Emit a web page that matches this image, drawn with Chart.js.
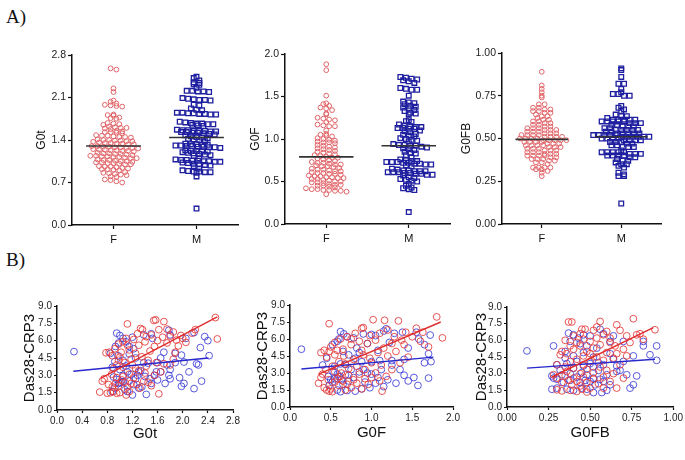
<!DOCTYPE html>
<html>
<head>
<meta charset="utf-8">
<script src="https://cdn.jsdelivr.net/npm/chart.js@4.4.1/dist/chart.umd.min.js"></script>
<style>
body { margin: 0; background: #fff; }
#wrap { position: relative; width: 685px; height: 460px; overflow: hidden; background: #fff; }
#wrap canvas { position: absolute; left: 0; top: 0; }
.tag { position: absolute; left: 6px; font-family: "Liberation Serif", "Times New Roman", serif; font-size: 19px; color: #111; }
</style>
</head>
<body>
<div id="wrap">
  <div class="tag" style="top:6px">A)</div>
  <div class="tag" style="top:249px">B)</div>
  <canvas id="c1" width="685" height="460"></canvas>
  <canvas id="c2" width="685" height="460"></canvas>
  <canvas id="c3" width="685" height="460"></canvas>
  <canvas id="c4" width="685" height="460"></canvas>
  <canvas id="c5" width="685" height="460"></canvas>
  <canvas id="c6" width="685" height="460"></canvas>
</div>
<script>
// ---- data ----
var groups = ['F', 'M'];

var g0tF = [2.58, 2.56, 2.25, 2.19,
  2.05, 2.03, 2.00, 1.98, 1.97, 1.96, 1.95,
  1.82, 1.81, 1.80, 1.77, 1.76, 1.75,
  1.68, 1.67, 1.66, 1.65, 1.62, 1.61, 1.60, 1.60, 1.59, 1.58,
  1.55, 1.54, 1.53, 1.53, 1.52, 1.51, 1.48, 1.47, 1.47, 1.46, 1.45, 1.45, 1.44,
  1.41, 1.40, 1.40, 1.39, 1.39, 1.38, 1.38, 1.37, 1.36, 1.35, 1.35, 1.34, 1.34, 1.33, 1.33,
  1.30, 1.30, 1.29, 1.29, 1.28, 1.28, 1.27, 1.27, 1.26, 1.25, 1.24, 1.24, 1.23, 1.23, 1.22, 1.22, 1.21,
  1.19, 1.18, 1.18, 1.17, 1.17, 1.16, 1.15, 1.14, 1.14, 1.13, 1.13, 1.12, 1.12, 1.11, 1.10, 1.10,
  1.08, 1.07, 1.07, 1.06, 1.05, 1.05, 1.04, 1.03, 1.03, 1.02, 1.02, 1.01, 1.00, 1.00,
  0.97, 0.96, 0.96, 0.95, 0.94, 0.93, 0.92, 0.92, 0.91, 0.90,
  0.87, 0.86, 0.85, 0.84, 0.83, 0.82, 0.80, 0.79,
  0.75, 0.74, 0.72, 0.70];
var g0tM = [2.44, 2.42, 2.38, 2.35, 2.34, 2.32, 2.31,
  2.26, 2.21, 2.21, 2.20, 2.20, 2.19,
  2.09, 2.08, 2.07, 2.06, 2.06, 2.05,
  1.98, 1.97, 1.92, 1.90, 1.89,
  1.85, 1.85, 1.84, 1.84, 1.83, 1.83, 1.82, 1.82,
  1.70, 1.69, 1.68, 1.67, 1.67, 1.66, 1.66, 1.65, 1.64, 1.63,
  1.57, 1.56, 1.56, 1.55, 1.55, 1.55, 1.54, 1.54, 1.53, 1.53, 1.52, 1.52, 1.51, 1.50, 1.49, 1.48,
  1.46, 1.45, 1.44, 1.43, 1.42, 1.41, 1.40, 1.38,
  1.34, 1.33, 1.33, 1.32, 1.32, 1.31, 1.31, 1.30, 1.30, 1.29, 1.29, 1.28, 1.28, 1.27,
  1.23, 1.22, 1.22, 1.21, 1.21, 1.20, 1.19, 1.18, 1.17, 1.16, 1.15, 1.14,
  1.10, 1.08, 1.07, 1.07, 1.06, 1.06, 1.05, 1.05, 1.04, 1.04, 1.03, 1.02, 1.01, 1.00, 0.99, 0.98, 0.97,
  0.93, 0.90, 0.89, 0.88, 0.88, 0.87, 0.87, 0.86,
  0.80, 0.27];

var g0fF = [1.88, 1.81, 1.51,
  1.42, 1.41, 1.39, 1.37, 1.36, 1.34,
  1.30, 1.29, 1.25, 1.24, 1.23, 1.22, 1.20, 1.17, 1.16, 1.15, 1.15,
  1.10, 1.06, 1.05, 1.04, 1.03, 1.01, 1.00, 0.99, 0.98, 0.97, 0.96, 0.96, 0.95,
  0.93, 0.92, 0.91, 0.90, 0.89, 0.88, 0.87, 0.86, 0.85, 0.84, 0.83,
  0.82, 0.81, 0.80, 0.79, 0.78, 0.78, 0.77, 0.76, 0.75, 0.74,
  0.73, 0.72, 0.72, 0.71, 0.70, 0.70, 0.69, 0.68, 0.68, 0.67, 0.66,
  0.65, 0.64, 0.64, 0.63, 0.62, 0.62, 0.61, 0.60, 0.60, 0.59, 0.59, 0.58,
  0.57, 0.56, 0.56, 0.55, 0.55, 0.54, 0.54, 0.53, 0.53, 0.52,
  0.51, 0.50, 0.50, 0.49, 0.49, 0.48, 0.47, 0.46, 0.46, 0.45, 0.45, 0.44, 0.43,
  0.42, 0.41, 0.41, 0.40, 0.40, 0.39, 0.39, 0.38, 0.35];
var g0fM = [1.73, 1.72, 1.71, 1.70, 1.69, 1.68, 1.66,
  1.60, 1.59, 1.58, 1.58, 1.51,
  1.44, 1.43, 1.42, 1.41, 1.39, 1.38, 1.37, 1.36,
  1.34, 1.33, 1.31, 1.30, 1.29,
  1.22, 1.21, 1.20, 1.17, 1.16, 1.15, 1.14, 1.14, 1.13, 1.13, 1.12, 1.12,
  1.10, 1.09, 1.08, 1.06, 1.05, 1.04, 1.03, 1.01, 1.00, 0.99, 0.98, 0.97,
  0.94, 0.93, 0.93, 0.92, 0.92, 0.91, 0.90, 0.89, 0.88, 0.87, 0.85, 0.84, 0.83, 0.81,
  0.78, 0.76, 0.75, 0.74, 0.74, 0.73, 0.73, 0.73, 0.72, 0.72, 0.71, 0.71, 0.70, 0.70, 0.69, 0.68,
  0.65, 0.64, 0.63, 0.63, 0.62, 0.62, 0.62, 0.61, 0.61, 0.61, 0.60, 0.60, 0.59, 0.59, 0.58, 0.58, 0.57,
  0.55, 0.54, 0.53, 0.52, 0.51, 0.50,
  0.47, 0.45, 0.43, 0.42, 0.41, 0.40, 0.14];

var g0fbF = [0.89, 0.81, 0.79, 0.77, 0.75, 0.74,
  0.70, 0.70, 0.68, 0.68, 0.67, 0.67,
  0.66, 0.66, 0.65, 0.65, 0.64, 0.63, 0.63,
  0.62, 0.61, 0.61, 0.60, 0.60, 0.59, 0.59, 0.58, 0.58,
  0.57, 0.57, 0.56, 0.56, 0.56, 0.55, 0.55, 0.55, 0.54, 0.54, 0.54,
  0.53, 0.53, 0.53, 0.52, 0.52, 0.52, 0.52, 0.51, 0.51, 0.51, 0.51,
  0.50, 0.50, 0.50, 0.50, 0.49, 0.49, 0.49, 0.49, 0.49, 0.48, 0.48, 0.48, 0.48,
  0.47, 0.47, 0.47, 0.46, 0.46, 0.46, 0.46, 0.45, 0.45, 0.45, 0.44, 0.44, 0.44,
  0.43, 0.43, 0.43, 0.42, 0.42, 0.42, 0.41, 0.41, 0.41, 0.40, 0.40, 0.40, 0.40,
  0.39, 0.39, 0.38, 0.38, 0.38, 0.37, 0.37, 0.36, 0.36, 0.35,
  0.33, 0.33, 0.33, 0.33, 0.32, 0.32, 0.31, 0.30, 0.28];
var g0fbM = [0.91, 0.90, 0.86, 0.82, 0.82, 0.79, 0.77, 0.76, 0.76, 0.75, 0.75,
  0.69, 0.68, 0.67, 0.66, 0.64, 0.63, 0.63,
  0.62, 0.61, 0.61, 0.61, 0.61, 0.61, 0.60, 0.60, 0.60, 0.60, 0.60, 0.59, 0.59, 0.59,
  0.58, 0.58, 0.57, 0.57, 0.57, 0.56, 0.56, 0.55, 0.55, 0.55, 0.55, 0.55, 0.54, 0.54,
  0.53, 0.53, 0.53, 0.53, 0.53, 0.52, 0.52, 0.52, 0.52, 0.52, 0.51, 0.51, 0.51, 0.51, 0.51, 0.51, 0.50, 0.50, 0.50, 0.50,
  0.49, 0.49, 0.49, 0.49, 0.48, 0.48, 0.48, 0.47, 0.47, 0.46, 0.46, 0.45, 0.45, 0.45,
  0.43, 0.42, 0.42, 0.42, 0.42, 0.42, 0.41, 0.41, 0.41, 0.40, 0.40, 0.40, 0.40, 0.39, 0.39,
  0.38, 0.37, 0.37, 0.36, 0.35, 0.35, 0.34, 0.33,
  0.30, 0.29, 0.28, 0.28, 0.12];

// horizontal mean bars [F, M]
var meanG0t = [1.30, 1.44];
var meanG0F = [0.79, 0.92];
var meanG0FB = [0.495, 0.51];

// scatter: [G0x, Das28-CRP3]
var scatG0tF = [[2.52,8.0],[2.55,6.15],[1.57,7.8],[1.54,7.75],[1.70,7.65],[1.12,7.45],[1.33,7.05],[1.36,6.95],[1.62,6.95],[1.75,7.0],
  [1.85,6.75],[2.20,6.95],[2.15,6.65],[1.97,6.45],[2.05,5.85],[1.93,5.55],[1.90,6.05],[1.50,6.5],[1.42,6.35],[1.28,6.6],
  [1.22,6.1],[1.10,6.2],[1.05,5.9],[0.98,5.7],[0.92,5.3],[0.83,5.0],[0.78,4.95],[0.88,4.7],[1.00,4.6],[1.15,5.2],
  [1.30,5.6],[1.40,5.9],[1.55,5.5],[1.48,5.1],[1.60,6.0],[1.68,6.3],[1.75,5.8],[1.25,4.9],[1.35,4.6],[1.45,4.3],
  [1.18,4.4],[1.08,4.1],[0.95,3.9],[0.90,3.6],[1.05,3.7],[1.20,3.9],[1.30,3.4],[1.40,3.2],[1.55,3.0],[1.65,3.3],
  [1.80,3.9],[1.85,4.4],[1.70,4.0],[0.75,2.7],[0.72,2.5],[0.68,1.55],[0.80,1.45],[0.85,1.5],[0.90,1.6],[0.95,1.45],
  [1.00,1.5],[1.10,1.3],[1.15,1.6],[0.82,2.2],[0.88,2.0],[0.93,2.3],[0.98,2.1],[1.03,2.6],[1.08,2.4],[1.12,2.0],
  [1.18,2.3],[1.22,2.8],[1.27,2.2],[1.32,1.9],[1.38,2.5],[1.45,2.4],[1.50,2.1],[1.62,1.4],[1.05,2.9],[0.95,2.8],
  [0.87,3.1],[1.15,3.1],[1.25,3.6],[1.42,3.8],[1.58,4.1],[1.88,5.0],[2.00,6.2],[1.80,6.4],[1.12,5.6],[1.02,5.0],[0.98,4.3]];
var scatG0tM = [[0.27,5.05],[0.95,6.65],[1.00,6.45],[1.05,6.2],[0.93,5.5],[0.98,5.8],[1.10,5.9],[1.20,6.3],[1.38,6.5],[1.50,6.6],
  [1.52,6.2],[1.78,6.9],[1.80,6.5],[2.05,6.2],[2.18,6.7],[2.35,6.35],[2.40,6.0],[2.28,5.4],[1.98,4.75],[1.88,4.9],
  [1.70,5.0],[1.60,4.1],[1.45,4.05],[1.38,4.1],[1.25,4.5],[1.15,4.85],[1.05,4.3],[0.88,3.7],[0.85,4.9],[0.92,4.2],
  [1.00,3.5],[1.05,3.0],[1.12,3.3],[1.18,3.1],[1.30,3.3],[1.33,3.4],[1.28,3.0],[1.40,2.9],[1.48,2.7],[1.55,3.0],
  [1.58,3.3],[1.65,3.3],[1.72,2.3],[1.80,2.7],[1.78,3.0],[1.88,4.1],[2.02,4.15],[2.10,3.3],[2.22,4.0],[2.25,3.9],
  [2.42,4.7],[2.30,2.5],[2.18,1.85],[2.02,2.3],[1.98,2.05],[1.95,2.8],[1.80,3.5],[1.42,1.35],[1.20,1.3],[1.12,1.6],
  [1.08,1.75],[1.00,2.35],[1.02,2.4],[0.98,2.3],[1.05,2.45],[0.95,2.65],[0.90,2.85],[0.92,1.9],[0.88,1.6],[1.15,2.5],
  [1.22,2.2],[1.30,1.9],[1.35,2.0],[1.25,2.7],[1.60,2.6],[1.50,2.3],[1.65,4.5],[1.75,3.9],[1.10,3.8],[0.97,4.7],
  [1.22,5.3],[1.15,5.5]];

var scatG0FF = [[1.80,7.95],[1.87,6.1],[0.48,7.35],[1.02,7.7],[1.16,7.65],[1.33,7.6],[0.88,6.95],[0.90,7.0],[1.55,6.95],[1.50,6.2],
  [1.37,5.9],[1.63,6.6],[1.42,6.6],[1.20,6.8],[1.10,6.5],[0.98,6.3],[0.80,6.5],[0.70,6.2],[0.62,6.0],[0.55,5.7],
  [0.50,5.3],[0.42,5.0],[0.38,4.8],[0.45,4.4],[0.55,4.6],[0.65,5.1],[0.75,5.5],[0.85,5.8],[0.95,5.6],[1.05,5.9],
  [1.15,5.2],[1.25,5.6],[1.30,4.9],[1.20,4.5],[1.08,4.8],[0.98,4.3],[0.88,5.0],[0.78,4.2],[0.68,3.8],[0.60,4.0],
  [0.52,3.6],[0.72,3.4],[0.82,3.6],[0.92,3.3],[1.00,3.9],[1.12,3.7],[1.25,3.3],[1.35,3.9],[1.45,4.4],[1.40,5.5],
  [1.60,5.8],[1.70,5.3],[0.40,2.9],[0.38,2.6],[0.35,2.1],[0.42,1.7],[0.45,1.5],[0.48,1.4],[0.50,1.6],[0.52,1.35],
  [0.55,2.2],[0.58,2.5],[0.60,1.9],[0.62,2.7],[0.65,2.3],[0.68,1.5],[0.70,2.0],[0.72,2.8],[0.75,1.7],[0.78,2.4],
  [0.82,2.1],[0.85,2.9],[0.88,1.6],[0.92,2.5],[0.96,2.0],[1.00,2.6],[1.05,3.0],[1.10,2.3],[1.13,1.4],[1.18,2.7],
  [0.55,3.1],[0.47,2.4],[0.44,3.3],[0.63,3.0],[0.58,5.0],[0.48,4.9],[0.90,4.6],[1.28,6.2],[0.75,6.0],[0.66,4.5]];
var scatG0FM = [[0.14,5.1],[0.62,6.65],[0.66,6.45],[0.70,6.2],[0.58,5.8],[0.52,5.5],[0.60,6.0],[0.78,6.1],[0.90,6.45],[1.00,6.4],
  [1.05,6.3],[1.15,6.7],[1.18,6.9],[1.28,6.5],[1.38,6.6],[1.55,6.6],[1.58,6.0],[1.65,5.5],[1.72,6.35],[1.70,4.7],
  [1.73,4.0],[1.65,3.9],[1.45,5.2],[1.40,4.2],[1.25,4.1],[1.10,4.1],[1.00,4.0],[0.88,4.0],[0.80,4.3],[0.72,4.6],
  [0.65,4.9],[0.45,4.3],[0.40,3.7],[0.55,3.6],[0.62,3.8],[0.68,3.75],[0.75,3.3],[0.85,3.1],[0.90,3.3],[0.95,3.0],
  [1.00,2.9],[1.08,2.6],[1.12,3.3],[1.20,2.4],[1.25,3.7],[1.35,3.3],[1.40,2.8],[1.45,2.3],[1.52,2.6],[1.57,1.9],
  [1.70,2.55],[1.30,2.1],[0.98,1.7],[0.88,1.6],[0.80,1.4],[0.70,1.45],[0.62,1.35],[0.58,1.5],[0.55,2.5],[0.52,2.2],
  [0.50,2.4],[0.48,1.9],[0.60,2.7],[0.65,2.0],[0.72,2.3],[0.78,2.6],[0.58,2.9],[0.53,3.1],[0.68,2.85],[0.92,2.2],
  [1.05,2.1],[1.15,1.8],[0.82,5.2],[0.95,5.6],[1.08,5.0],[1.22,5.7],[0.85,4.8],[0.47,2.7],[0.63,2.4]];

var scatG0FBF = [[0.76,7.95],[0.89,6.95],[0.37,7.65],[0.39,7.65],[0.56,7.7],[0.45,7.0],[0.47,7.0],[0.52,6.9],[0.60,6.8],[0.66,7.4],
  [0.68,6.9],[0.72,6.4],[0.80,6.6],[0.78,6.5],[0.74,5.8],[0.70,5.2],[0.65,5.5],[0.62,6.2],[0.58,6.5],[0.54,6.2],
  [0.50,5.9],[0.46,6.1],[0.42,5.8],[0.40,6.4],[0.35,6.0],[0.33,5.0],[0.36,4.8],[0.40,5.2],[0.44,5.5],[0.48,5.0],
  [0.52,5.3],[0.56,5.6],[0.60,4.9],[0.64,4.4],[0.58,4.2],[0.54,4.5],[0.50,4.1],[0.46,4.6],[0.42,4.3],[0.38,4.1],
  [0.32,4.7],[0.30,3.8],[0.28,2.9],[0.30,2.6],[0.33,2.2],[0.35,2.8],[0.37,2.4],[0.39,2.0],[0.40,2.6],[0.42,2.3],
  [0.44,1.9],[0.46,2.7],[0.48,2.2],[0.50,1.7],[0.52,2.5],[0.55,2.1],[0.38,1.5],[0.42,1.4],[0.45,1.6],[0.48,1.35],
  [0.33,1.45],[0.30,1.55],[0.58,1.7],[0.62,2.3],[0.66,1.7],[0.70,2.6],[0.36,3.2],[0.40,3.5],[0.44,3.0],[0.48,3.4],
  [0.52,3.1],[0.56,3.6],[0.60,3.3],[0.64,3.0],[0.68,3.8],[0.35,3.6],[0.62,5.8],[0.66,4.8],[0.72,4.6],[0.82,6.1],
  [0.50,4.8],[0.44,6.6],[0.54,7.2],[0.38,5.5],[0.46,3.8],[0.58,2.7]];
var scatG0FBM = [[0.12,5.05],[0.37,6.65],[0.40,6.5],[0.43,6.2],[0.38,5.9],[0.35,5.0],[0.28,5.5],[0.50,6.4],[0.56,7.0],[0.58,6.6],
  [0.64,6.4],[0.70,5.9],[0.82,5.9],[0.82,5.5],[0.86,4.7],[0.90,5.5],[0.90,4.2],[0.76,4.6],[0.70,4.1],[0.64,4.3],
  [0.58,3.8],[0.55,4.0],[0.50,3.9],[0.46,3.7],[0.42,4.1],[0.40,3.5],[0.36,3.9],[0.30,3.8],[0.32,3.3],[0.28,2.6],
  [0.27,2.8],[0.30,2.5],[0.33,2.9],[0.38,3.0],[0.42,2.7],[0.45,3.1],[0.48,2.9],[0.52,2.6],[0.55,3.3],[0.58,2.3],
  [0.62,2.0],[0.66,3.2],[0.68,3.3],[0.72,2.9],[0.78,2.8],[0.76,2.0],[0.74,1.7],[0.60,1.5],[0.57,1.3],[0.52,1.3],
  [0.48,1.6],[0.45,1.7],[0.40,1.5],[0.36,1.6],[0.30,1.7],[0.27,1.6],[0.44,2.2],[0.47,2.4],[0.50,2.3],[0.53,2.0],
  [0.56,2.5],[0.60,2.9],[0.34,2.2],[0.38,2.4],[0.46,4.9],[0.52,4.5],[0.48,5.5],[0.54,5.3],[0.62,4.8],[0.44,5.7],
  [0.40,4.6],[0.66,3.7],[0.52,3.6],[0.35,4.4],[0.62,5.9],[0.46,6.5]];

// fitted lines, end points [x, y]
var fitG0tF = [[0.70, 2.75], [2.55, 8.05]];
var fitG0tM = [[0.26, 3.35], [2.41, 4.50]];
var fitG0FF = [[0.35, 2.90], [1.85, 7.50]];
var fitG0FM = [[0.14, 3.35], [1.76, 4.40]];
var fitG0FBF = [[0.27, 2.70], [0.88, 7.15]];
var fitG0FBM = [[0.12, 3.50], [0.89, 4.30]];

// tick labels
var ticksG0t = [0, 0.7, 1.4, 2.1, 2.8];
var ticksG0F = [0, 0.5, 1.0, 1.5, 2.0];
var ticksG0FB = [0, 0.25, 0.5, 0.75, 1.0];
var ticksDas = [0, 1.5, 3.0, 4.5, 6.0, 7.5, 9.0];
var ticksXG0t = [0, 0.4, 0.8, 1.2, 1.6, 2.0, 2.4, 2.8];
var ticksXG0F = [0, 0.5, 1.0, 1.5, 2.0];
var ticksXG0FB = [0, 0.25, 0.5, 0.75, 1.0];

// ---- drawing ----
var FONT = '"Liberation Sans", Arial, sans-serif';
var W = 685, H = 460;

// column-scatter layout: values falling in the same pixel row are spread side by side
function columnScatter(vals, cx, pxPerX, pxPerY, rowPx, gap) {
    var rows = {};
    vals.forEach(function (v) {
        var k = Math.round(v * pxPerY / rowPx);
        (rows[k] = rows[k] || []).push(v);
    });
    var out = [];
    Object.keys(rows).forEach(function (k) {
        var r = rows[k];
        var shift = (Number(k) % 2 === 0) ? 0 : 0.25;
        r.forEach(function (v, i) {
            var off = (i - (r.length - 1) / 2) * gap;
            if (r.length > 1) off += shift * gap * (r.length % 2 ? 1 : 0);
            out.push({ x: cx + off / pxPerX, y: v });
        });
    });
    return out;
}

function axisBase(ticks, dec, fontSize, tickLen) {
    return {
        type: 'linear',
        min: ticks[0],
        max: ticks[ticks.length - 1],
        afterBuildTicks: function (s) { s.ticks = ticks.map(function (v) { return { value: v }; }); },
        ticks: {
            autoSkip: false, maxRotation: 0, padding: 2,
            color: '#222', font: { family: FONT, size: fontSize },
            callback: function (v) { return Number(v).toFixed(dec); }
        },
        grid: { drawOnChartArea: false, drawTicks: true, tickLength: tickLen, tickColor: '#111', tickWidth: 1.2 },
        border: { display: true, color: '#111', width: 1.5 }
    };
}

function makeChart(id, box, datasets, xAxis, yAxis) {
    var padLeft = box.titleX - box.yTitleSize * 0.6;
    var padBottom = box.xTitleY ? H - box.xTitleY - box.xTitleSize * 0.6 : H - box.b - 30;
    var yW = box.l - padLeft;
    var xH = H - padBottom - box.b;
    yAxis.afterFit = function (s) { s.width = yW; };
    xAxis.afterFit = function (s) { s.height = xH; };
    yAxis.title = { display: true, text: box.yTitle, color: '#111', padding: 0, font: { family: FONT, size: box.yTitleSize } };
    if (box.xTitle) {
        xAxis.title = { display: true, text: box.xTitle, color: '#111', padding: 0, font: { family: FONT, size: box.xTitleSize } };
    }
    return new Chart(document.getElementById(id), {
        type: 'scatter',
        data: { datasets: datasets },
        options: {
            responsive: false,
            animation: false,
            layout: { padding: { left: padLeft, right: W - box.r, top: box.t, bottom: padBottom } },
            plugins: { legend: { display: false }, tooltip: { enabled: false } },
            scales: { x: xAxis, y: yAxis }
        }
    });
}

function dotPanel(id, box, yTicks, dec, fVals, mVals, means) {
    var yMax = yTicks[yTicks.length - 1];
    var pxX = (box.r - box.l) / 2, pxY = (box.b - box.t) / yMax;
    var fPts = columnScatter(fVals, 0.5, pxX, pxY, 3.4, 5.8);
    var mPts = columnScatter(mVals, 1.5, pxX, pxY, 3.4, 5.6);
    var half = 0.33;
    var ds = [
        { data: [{ x: 0.5 - half, y: means[0] }, { x: 0.5 + half, y: means[0] }], showLine: true, pointRadius: 0,
          borderColor: '#333', borderWidth: 1.6, order: 0 },
        { data: [{ x: 1.5 - half, y: means[1] }, { x: 1.5 + half, y: means[1] }], showLine: true, pointRadius: 0,
          borderColor: '#333', borderWidth: 1.6, order: 0 },
        { label: groups[0], data: fPts, pointStyle: 'circle', pointRadius: 2.4, borderWidth: 1,
          borderColor: 'rgb(224,100,104)', backgroundColor: 'rgba(0,0,0,0)', order: 2 },
        { label: groups[1], data: mPts, pointStyle: 'rect', pointRadius: 3.3, borderWidth: 1.3,
          borderColor: 'rgb(30,30,160)', backgroundColor: 'rgba(0,0,0,0)', order: 1 }
    ];
    var xAxis = axisBase([0, 2], 0, 11, 4);
    xAxis.afterBuildTicks = function (s) { s.ticks = [{ value: 0.5 }, { value: 1.5 }]; };
    xAxis.ticks.callback = function (v) { return v < 1 ? groups[0] : groups[1]; };
    xAxis.ticks.padding = 4;
    xAxis.ticks.color = '#111';
    var yAxis = axisBase(yTicks, dec, 10.5, 4);
    makeChart(id, box, ds, xAxis, yAxis);
}

function toXY(arr) { return arr.map(function (p) { return { x: p[0], y: p[1] }; }); }

function scatPanel(id, box, xTicks, xDec, fPts, mPts, fitF, fitM) {
    var ds = [
        { data: toXY(fitF), showLine: true, pointRadius: 0, borderColor: 'rgb(225,45,45)', borderWidth: 1.4, order: 0 },
        { data: toXY(fitM), showLine: true, pointRadius: 0, borderColor: 'rgb(40,40,205)', borderWidth: 1.4, order: 0 },
        { label: groups[1], data: toXY(mPts), pointRadius: 3.4, borderWidth: 1,
          borderColor: 'rgba(60,60,215,0.85)', backgroundColor: 'rgba(0,0,0,0)', order: 2 },
        { label: groups[0], data: toXY(fPts), pointRadius: 3.4, borderWidth: 1,
          borderColor: 'rgba(228,55,55,0.85)', backgroundColor: 'rgba(0,0,0,0)', order: 1 }
    ];
    var xAxis = axisBase(xTicks, xDec, 10, 3);
    var yAxis = axisBase(ticksDas, 1, 10, 3);
    makeChart(id, box, ds, xAxis, yAxis);
}

dotPanel('c1', { l: 72, r: 238, t: 55, b: 225, titleX: 42, yTitle: 'G0t', yTitleSize: 12 },
    ticksG0t, 1, g0tF, g0tM, meanG0t);
dotPanel('c2', { l: 285, r: 450, t: 54, b: 224, titleX: 256, yTitle: 'G0F', yTitleSize: 12 },
    ticksG0F, 1, g0fF, g0fM, meanG0F);
dotPanel('c3', { l: 502, r: 661, t: 53, b: 224, titleX: 467, yTitle: 'G0FB', yTitleSize: 12 },
    ticksG0FB, 2, g0fbF, g0fbM, meanG0FB);

scatPanel('c4', { l: 57, r: 233, t: 306, b: 410, titleX: 30, yTitle: 'Das28-CRP3', yTitleSize: 15,
    xTitle: 'G0t', xTitleSize: 15, xTitleY: 434 }, ticksXG0t, 1, scatG0tF, scatG0tM, fitG0tF, fitG0tM);
scatPanel('c5', { l: 290, r: 453, t: 305, b: 407, titleX: 263, yTitle: 'Das28-CRP3', yTitleSize: 15,
    xTitle: 'G0F', xTitleSize: 15, xTitleY: 433 }, ticksXG0F, 1, scatG0FF, scatG0FM, fitG0FF, fitG0FM);
scatPanel('c6', { l: 507, r: 675, t: 307, b: 407, titleX: 482, yTitle: 'Das28-CRP3', yTitleSize: 15,
    xTitle: 'G0FB', xTitleSize: 15, xTitleY: 433 }, ticksXG0FB, 2, scatG0FBF, scatG0FBM, fitG0FBF, fitG0FBM);
</script>
</body>
</html>
